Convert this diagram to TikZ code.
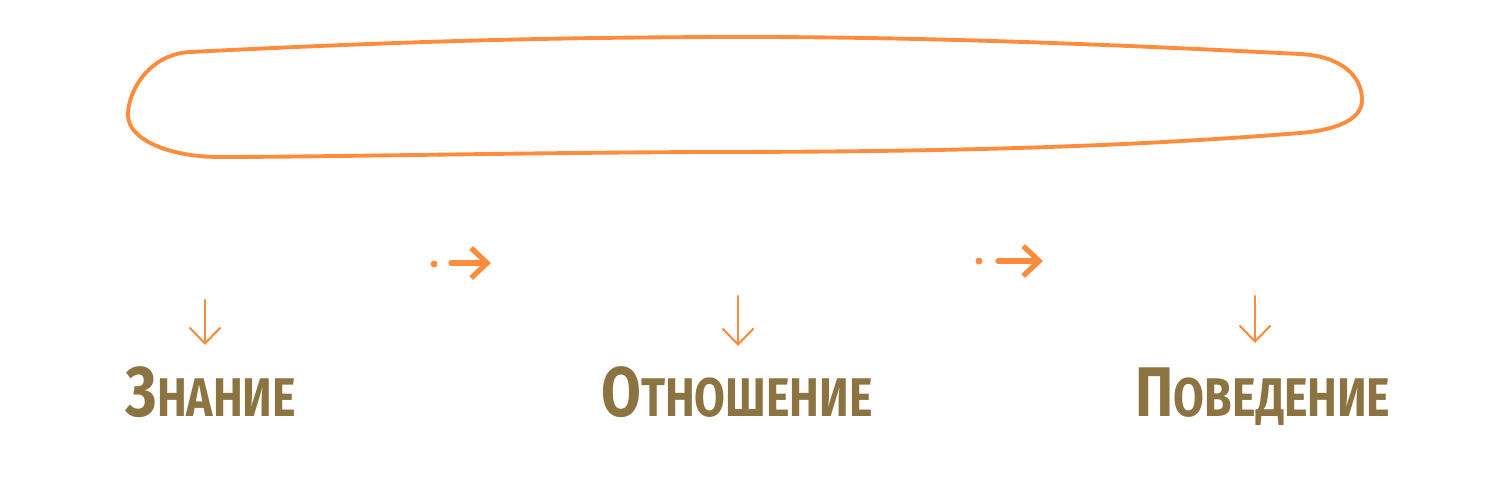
\documentclass[tikz,border=0pt]{standalone}
\usepackage{fontspec}
\usepackage{xcolor}
\usetikzlibrary{arrows.meta, positioning}
\newfontfamily\brushfont[FakeStretch=0.82]{Fira Sans Bold}
\definecolor{chalkorange}{HTML}{FF8C3D}
\definecolor{inkbrown}{HTML}{8B7442}
\newcommand{\capword}[2]{{\fontsize{40}{42}\selectfont #1}{\fontsize{31}{33}\selectfont\MakeUppercase{#2}}}

\begin{document}
\begin{tikzpicture}[x=0.02cm, y=-0.02cm]
    % Styles
    \tikzstyle{loopline} = [draw=chalkorange, line width=2.2pt, line join=round]
    \tikzstyle{downarrow} = [draw=chalkorange, line width=1.2pt, line cap=round, -{Straight Barb[length=3.2mm, width=6.2mm]}]
    \tikzstyle{nextarrow} = [draw=chalkorange, line width=3pt, line cap=round, -{Straight Barb[length=3.2mm, width=6mm]}]
    \tikzstyle{label} = [text=inkbrown, font=\brushfont, inner sep=0pt, anchor=base]
    \useasboundingbox (0,0) rectangle (1500,477);

    % Big loop
    \draw[loopline] (128,115) .. controls (128,90) and (150,54) .. (190,52)
        .. controls (400,41.5) and (550,37) .. (750,37)
        .. controls (950,37) and (1150,46.5) .. (1300,54)
        .. controls (1340,56) and (1362,75) .. (1362,100)
        .. controls (1362,122) and (1330,130.6) .. (1300,133)
        .. controls (1100,149) and (900,152) .. (700,152)
        .. controls (500,153) and (320,157) .. (220,157)
        .. controls (170,157) and (128,140) .. (128,115) -- cycle;

    % Labels
    \node[label] (knowledge) at (211,416) {\capword{З}{нание}};
    \node[label] (attitude) at (737,416) {\capword{О}{тношение}};
    \node[label] (behaviour) at (1263,416) {\capword{П}{оведение}};

    % Down arrows
    \coordinate (knowledge_in) at (205,300);
    \coordinate (attitude_in) at (738,296);
    \coordinate (behaviour_in) at (1255,296);
    \draw[downarrow] (knowledge_in) -- (knowledge_in |- 0,345);
    \draw[downarrow] (attitude_in) -- (attitude_in |- 0,346);
    \draw[downarrow] (behaviour_in) -- (behaviour_in |- 0,343);

    % Step arrows
    \coordinate (step_a) at (451,263);
    \coordinate (step_b) at (998,261);
    \fill[chalkorange] (434,264) circle (3.5);
    \fill[chalkorange] (979,261) circle (3.5);
    \draw[nextarrow] (step_a) -- ++(40,0);
    \draw[nextarrow] (step_b) -- ++(45,0);
\end{tikzpicture}
\end{document}
